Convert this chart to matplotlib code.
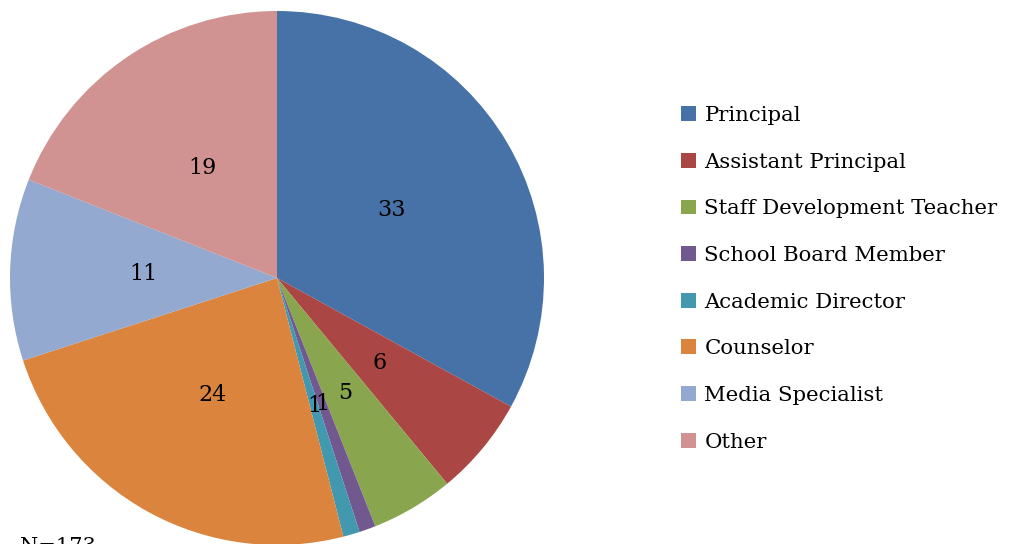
import matplotlib
matplotlib.use("Agg")
import matplotlib.pyplot as plt
from matplotlib.patches import Patch

# survey respondents by role (percent)
roles = ["Principal", "Assistant Principal", "Staff Development Teacher",
         "School Board Member", "Academic Director", "Counselor",
         "Media Specialist", "Other"]
shares = [33, 6, 5, 1, 1, 24, 11, 19]
colors = ["#4672A8", "#AA4643", "#89A54E", "#71588F",
          "#4198AF", "#DB843D", "#93A9CF", "#D19392"]
note = "N=173"

plt.rcParams['font.family'] = ['DejaVu Serif']

fig = plt.figure(figsize=(10.17, 5.44), dpi=100)

# pie centre ~ (277, 278) px, radius ~ 267 px
cx, cy, r = 277, 544 - 278, 267
ax = fig.add_axes([(cx - r) / 1017, (cy - r) / 544, 2 * r / 1017, 2 * r / 544])
wedges, texts = ax.pie(shares, colors=colors, startangle=90, counterclock=False,
                       labels=[str(v) for v in shares], labeldistance=0.5,
                       wedgeprops=dict(linewidth=0),
                       textprops=dict(fontsize=16, ha="center", va="center"))
ax.set_xlim(-1, 1)
ax.set_ylim(-1, 1)
ax.set_aspect("equal")
ax.axis("off")

handles = [Patch(facecolor=c, edgecolor="none") for c in colors]
fig.legend(handles, roles, loc="upper left", bbox_to_anchor=(662 / 1017, 1 - 87 / 544),
           frameon=False, fontsize=15.3, handlelength=0.7, handleheight=0.7,
           handletextpad=0.4, labelspacing=1.3)

fig.text(20 / 1017, -8 / 544, note, fontsize=15)

fig.savefig("out.png", dpi=100)
